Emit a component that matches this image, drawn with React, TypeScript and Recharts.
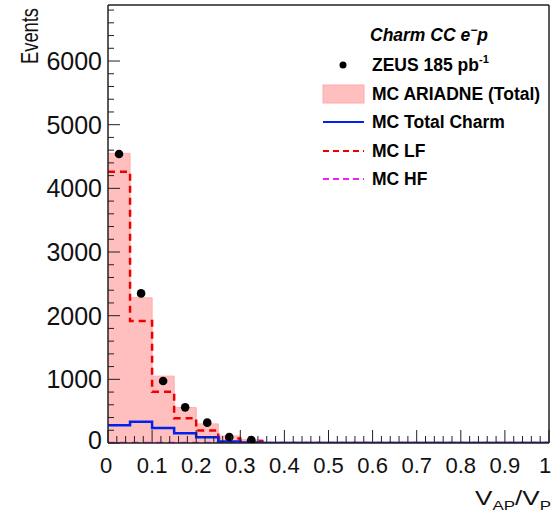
import { ComposedChart, Area, Line, Scatter, XAxis, YAxis, Legend } from 'recharts';

const binEdges = [0, 0.05, 0.1, 0.15, 0.2, 0.25, 0.3, 0.35, 0.4, 0.45, 0.5, 0.55, 0.6, 0.65, 0.7, 0.75, 0.8, 0.85, 0.9, 0.95, 1.0];
const mcTotal = [4550, 2280, 1050, 555, 300, 110, 50, 0, 0, 0, 0, 0, 0, 0, 0, 0, 0, 0, 0, 0];
const mcLF = [4260, 1915, 805, 390, 195, 70, 30, 0, 0, 0, 0, 0, 0, 0, 0, 0, 0, 0, 0, 0];
const mcCharm = [280, 335, 235, 152, 89, 22, 8, 0, 0, 0, 0, 0, 0, 0, 0, 0, 0, 0, 0, 0];
const mcHF = [0, 0, 0, 0, 0, 0, 0, 0, 0, 0, 0, 0, 0, 0, 0, 0, 0, 0, 0, 0];

const zeusX = [0.025, 0.075, 0.125, 0.175, 0.225, 0.275, 0.325];
const zeusY = [4540, 2350, 975, 560, 320, 95, 45];

const xMajor = [0, 0.1, 0.2, 0.3, 0.4, 0.5, 0.6, 0.7, 0.8, 0.9, 1];
const xLabels = ['0', '0.1', '0.2', '0.3', '0.4', '0.5', '0.6', '0.7', '0.8', '0.9', '1'];
const yMajor = [0, 1000, 2000, 3000, 4000, 5000, 6000];
const yLabels = ['0', '1000', '2000', '3000', '4000', '5000', '6000'];

const FONT = '"Liberation Sans", Arial, Helvetica, sans-serif';
const AXIS = '#222';

// histogram edges -> step rows (last bin value repeated at the right edge)
const histData = binEdges.map((x, i) => {
  const j = Math.min(i, mcTotal.length - 1);
  return { x, mc: mcTotal[j], lf: mcLF[j], charm: mcCharm[j], hf: mcHF[j] };
});
const zeusData = zeusX.map((x, i) => ({ x, ev: zeusY[i] }));

// minor tick positions (5 per major division)
const xTicks = Array.from({ length: 51 }, (_, i) => Math.round(i * 2) / 100);
const yTicks = Array.from({ length: 35 }, (_, i) => i * 200);

const near = (a: number, b: number) => Math.abs(a - b) < 1e-6;

function XTick({ x, y, payload }: any) {
  const idx = xMajor.findIndex((m) => near(m, payload.value));
  const major = idx >= 0;
  // end labels nudged inward so they stay inside the canvas
  const shift = idx === 0 ? -2 : idx === xMajor.length - 1 ? -4 : 0;
  return (
    <g>
      <line x1={x} x2={x} y1={y} y2={y - (major ? 13 : 7)} stroke={AXIS} strokeWidth={1} />
      {major && (
        <text x={x + shift} y={y + 30} textAnchor="middle" fontSize={22} fontFamily={FONT} fill="#111">
          {xLabels[idx]}
        </text>
      )}
    </g>
  );
}

function YTick({ x, y, payload }: any) {
  const idx = yMajor.findIndex((m) => near(m, payload.value));
  const major = idx >= 0;
  const lift = idx === 0 ? -3 : 0;
  return (
    <g>
      <line x1={x} x2={x + (major ? 12 : 6)} y1={y} y2={y} stroke={AXIS} strokeWidth={1} />
      {major && (
        <text x={x - 6} y={y + 9 + lift} textAnchor="end" fontSize={25} fontFamily={FONT} fill="#111">
          {yLabels[idx]}
        </text>
      )}
    </g>
  );
}

function Dot({ cx, cy }: any) {
  return <circle cx={cx} cy={cy} r={4.3} fill="#000" />;
}

function LegendBox() {
  const rows = [50, 79, 107, 136, 164];
  const txt = { fontSize: 17.5, fontFamily: FONT, fontWeight: 700, fill: '#000' } as const;
  return (
    <svg width={253} height={190} style={{ display: 'block' }}>
      <text x={70} y={26} {...txt} fontStyle="italic">
        Charm CC e<tspan fontSize={12} dy={-7}>−</tspan><tspan dy={7}>p</tspan>
      </text>
      <circle cx={43} cy={rows[0]} r={3.5} fill="#000" />
      <text x={72} y={rows[0] + 6} {...txt}>
        ZEUS 185 pb<tspan fontSize={11} dy={-8}>-1</tspan>
      </text>
      <rect x={23} y={rows[1] - 9} width={41} height={18} fill="#ff0000" fillOpacity={0.25} stroke="#ffaaaa" />
      <text x={72} y={rows[1] + 6} {...txt}>MC ARIADNE (Total)</text>
      <line x1={23} x2={64} y1={rows[2]} y2={rows[2]} stroke="#0022ee" strokeWidth={2} />
      <text x={72} y={rows[2] + 6} {...txt}>MC Total Charm</text>
      <line x1={23} x2={64} y1={rows[3]} y2={rows[3]} stroke="#ee0000" strokeWidth={2} strokeDasharray="6 4" />
      <text x={72} y={rows[3] + 6} {...txt}>MC LF</text>
      <line x1={23} x2={64} y1={rows[4]} y2={rows[4]} stroke="#ee22ee" strokeWidth={2} strokeDasharray="6 4" />
      <text x={72} y={rows[4] + 6} {...txt}>MC HF</text>
    </svg>
  );
}

export default function App() {
  return (
    <div style={{ position: 'absolute', left: 0, top: 0, width: 553, height: 525, background: '#fff' }}>
      <ComposedChart
        width={553}
        height={525}
        data={histData}
        margin={{ top: 4, right: 3, bottom: 42, left: 48 }}
      >
        <Area
          type="stepAfter"
          dataKey="mc"
          fill="#ff0000"
          fillOpacity={0.25}
          stroke="#ffaaaa"
          strokeWidth={1}
          isAnimationActive={false}
        />
        <Line type="stepAfter" dataKey="lf" stroke="#ee0000" strokeWidth={2.5} strokeDasharray="7 5" dot={false} activeDot={false} isAnimationActive={false} />
        <Line type="stepAfter" dataKey="hf" stroke="#ee22ee" strokeWidth={2.5} strokeDasharray="7 5" dot={false} activeDot={false} isAnimationActive={false} />
        <Line type="stepAfter" dataKey="charm" stroke="#0022ee" strokeWidth={2.5} dot={false} activeDot={false} isAnimationActive={false} />
        <Scatter data={zeusData} dataKey="ev" shape={<Dot />} isAnimationActive={false} />
        <XAxis
          dataKey="x"
          type="number"
          domain={[0, 1]}
          allowDataOverflow
          ticks={xTicks}
          interval={0}
          height={40}
          tickSize={0}
          tickMargin={0}
          tick={<XTick />}
          tickLine={false}
          axisLine={{ stroke: AXIS, strokeWidth: 1.5 }}
        />
        <XAxis xAxisId="top" orientation="top" type="number" domain={[0, 1]} height={1} tick={false} tickLine={false} axisLine={{ stroke: AXIS, strokeWidth: 1.5 }} />
        <YAxis
          type="number"
          domain={[0, 6880]}
          allowDataOverflow
          ticks={yTicks}
          interval={0}
          width={60}
          tickSize={0}
          tickMargin={0}
          tick={<YTick />}
          tickLine={false}
          axisLine={{ stroke: AXIS, strokeWidth: 1.5 }}
        />
        <YAxis yAxisId="right" orientation="right" type="number" domain={[0, 1]} width={1} tick={false} tickLine={false} axisLine={{ stroke: AXIS, strokeWidth: 1.5 }} />
        <Legend
          layout="vertical"
          align="center"
          verticalAlign="middle"
          wrapperStyle={{ left: 300, top: 15, width: 253, height: 190 }}
          content={() => <LegendBox />}
        />
      </ComposedChart>
      <svg width={553} height={525} style={{ position: 'absolute', left: 0, top: 0, pointerEvents: 'none' }}>
        <text
          x={38}
          y={8}
          transform="rotate(-90 38 8)"
          textAnchor="end"
          fontSize={24}
          fontFamily={FONT}
          fill="#111"
          textLength={56}
          lengthAdjust="spacingAndGlyphs"
        >
          Events
        </text>
        <text x={551} y={505} textAnchor="end" fontSize={20} fontFamily={FONT} fill="#111" textLength={76} lengthAdjust="spacingAndGlyphs">
          V<tspan fontSize={13} dy={5}>AP</tspan><tspan dy={-5}>/V</tspan><tspan fontSize={13} dy={5}>P</tspan>
        </text>
      </svg>
    </div>
  );
}
